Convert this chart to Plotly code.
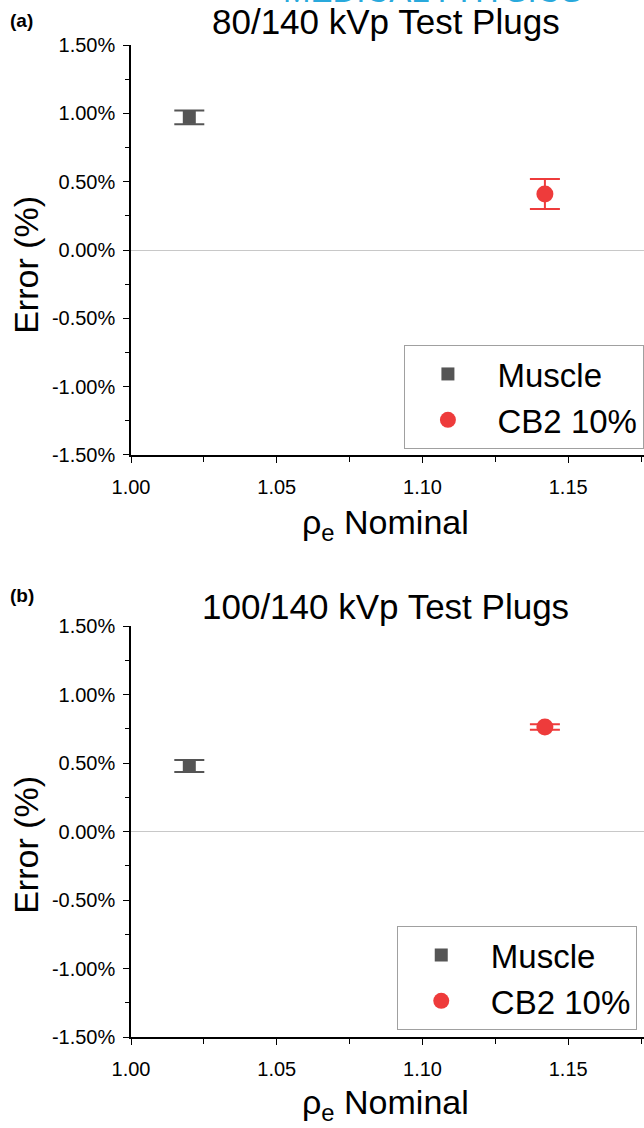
import plotly.graph_objects as go

# Nominal electron density of each test plug
plugs = ["Muscle", "CB2 10%"]
rho_e_nominal = [1.02, 1.142]

# Error (%) and its uncertainty for the 80/140 kVp pair
error_80 = [0.97, 0.41]
sd_80 = [0.05, 0.11]

# Error (%) and its uncertainty for the 100/140 kVp pair
error_100 = [0.478, 0.763]
sd_100 = [0.044, 0.02]

y_tick_vals = [-1.5, -1.0, -0.5, 0.0, 0.5, 1.0, 1.5]
y_tick_text = ["-1.50%", "-1.00%", "-0.50%", "0.00%", "0.50%", "1.00%", "1.50%"]
x_tick_vals = [1.00, 1.05, 1.10, 1.15]
x_tick_text = ["1.00", "1.05", "1.10", "1.15"]

colors = ["#555555", "#EE3B3B"]
symbols = ["square", "circle"]
sizes = [13, 17]

FONT = "Liberation Sans, Arial, sans-serif"
GAP = "\u2009"  # extra room between legend symbol and label

fig = go.Figure()

panels = [
    (error_80, sd_80, "x", "y", "legend"),
    (error_100, sd_100, "x2", "y2", "legend2"),
]
for errs, sds, xa, ya, lg in panels:
    for i, name in enumerate(plugs):
        fig.add_trace(go.Scatter(
            x=[rho_e_nominal[i]], y=[errs[i]],
            mode="markers", name=GAP + name,
            marker=dict(symbol=symbols[i], size=sizes[i], color=colors[i],
                        line=dict(width=0)),
            error_y=dict(type="data", array=[sds[i]], visible=True,
                         color=colors[i], thickness=2, width=15),
            xaxis=xa, yaxis=ya, legend=lg,
        ))

axis_common = dict(
    showline=True, linecolor="black", linewidth=1.5, mirror=False,
    showgrid=False, ticks="outside", ticklen=6, tickwidth=1.2,
    tickcolor="black", tickfont=dict(size=20, family=FONT, color="black"),
)

x_axis = dict(
    axis_common, range=[1.0, 1.176], tickmode="array",
    tickvals=x_tick_vals, ticktext=x_tick_text, zeroline=False,
    ticklabelstandoff=7,
    minor=dict(tickmode="linear", tick0=1.0, dtick=0.025, ticks="outside",
               ticklen=5, tickcolor="black", tickwidth=1.2),
)
y_axis = dict(
    axis_common, range=[-1.5, 1.5], tickmode="array",
    tickvals=y_tick_vals, ticktext=y_tick_text,
    zeroline=True, zerolinecolor="#c8c8c8", zerolinewidth=1,
    ticklabelstandoff=4,
    minor=dict(tickmode="linear", tick0=0, dtick=0.25, ticks="outside",
               ticklen=4, tickcolor="black", tickwidth=1.2),
)

legend_common = dict(
    xanchor="left", yanchor="top", bgcolor="white",
    bordercolor="#a0a0a0", borderwidth=1,
    font=dict(size=33, family=FONT, color="black"),
    itemwidth=76, tracegroupgap=0,
)

fig.update_layout(
    width=644, height=1128,
    margin=dict(l=131, r=0, t=45, b=91, autoexpand=False),
    paper_bgcolor="white", plot_bgcolor="white",
    font=dict(family=FONT, color="black"),
    xaxis=dict(x_axis, domain=[0, 1], anchor="y"),
    yaxis=dict(y_axis, domain=[0.5867, 1.0], anchor="x"),
    xaxis2=dict(x_axis, domain=[0, 1], anchor="y2"),
    yaxis2=dict(y_axis, domain=[0.0, 0.4143], anchor="x2"),
    legend=dict(legend_common, x=0.532, y=1 - (345 - 45) / 992),
    legend2=dict(legend_common, x=0.519, y=1 - (926 - 45) / 992),
    showlegend=True,
)

annotations = [
    # journal header, cut by the top edge of the page
    dict(text="MEDICAL PHYSICS", x=0.589, y=1 + (45 - 11) / 992, xanchor="center",
         yanchor="bottom", font=dict(size=33, color="#29A9DC", family=FONT)),
    # panel labels
    dict(text="<b>(a)</b>", x=-0.213, y=1.0252, xanchor="center", yanchor="middle",
         font=dict(size=19, family=FONT)),
    dict(text="<b>(b)</b>", x=-0.213, y=0.4446, xanchor="center", yanchor="middle",
         font=dict(size=19, family=FONT)),
    # panel titles
    dict(text="80/140 kVp Test Plugs", x=0.497, y=1.0232, xanchor="center",
         yanchor="middle", font=dict(size=35, family=FONT)),
    dict(text="100/140 kVp Test Plugs", x=0.497, y=0.4335, xanchor="center",
         yanchor="middle", font=dict(size=35, family=FONT)),
    # axis titles
    dict(text="ρ<sub>e</sub> Nominal", x=0.497, y=0.5170, xanchor="center",
         yanchor="middle", font=dict(size=34, family=FONT)),
    dict(text="ρ<sub>e</sub> Nominal", x=0.497, y=-0.0685, xanchor="center",
         yanchor="middle", font=dict(size=34, family=FONT)),
    dict(text="Error (%)", x=-0.205, y=1 - (265 - 45) / 992, xanchor="center",
         yanchor="middle", textangle=-90, font=dict(size=34, family=FONT)),
    dict(text="Error (%)", x=-0.205, y=1 - (845 - 45) / 992, xanchor="center",
         yanchor="middle", textangle=-90, font=dict(size=34, family=FONT)),
]
for a in annotations:
    a.update(xref="paper", yref="paper", showarrow=False)
fig.update_layout(annotations=annotations)

fig.write_html("out.html")
